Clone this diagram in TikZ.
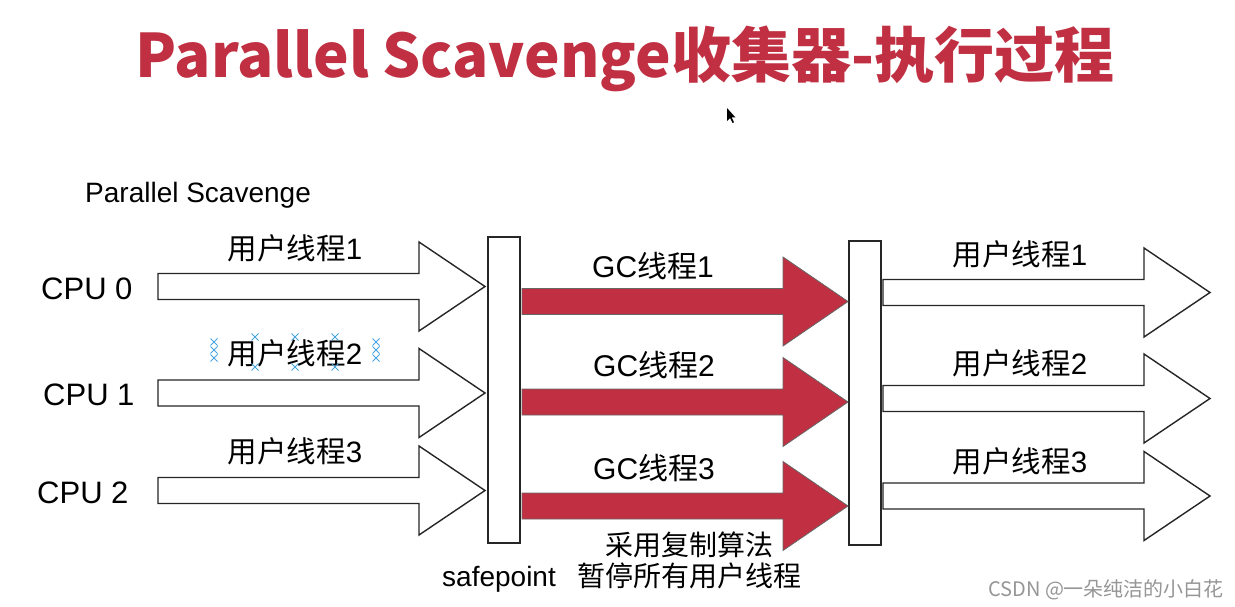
\documentclass[tikz,border=0pt]{standalone}
\usepackage{fontspec}
\setmainfont{Liberation Sans}
\newfontfamily\cjk{Noto Sans CJK SC}
\newcommand\zh[1]{{\cjk #1}}
\definecolor{gcred}{RGB}{192,48,66}
\definecolor{markblue}{RGB}{70,165,225}
\definecolor{wmgray}{RGB}{150,150,150}
\tikzset{
  blk/.style={draw=black!85, line width=1.4pt, fill=white, line join=miter},
  redarr/.style={draw=black!60, line width=0.8pt, fill=gcred, line join=miter},
  barbox/.style={draw=black!85, line width=1.4pt, fill=white, minimum width=32pt, inner sep=0pt},
  ulbl/.style={inner sep=0pt, anchor=base, font=\fontsize{29.5}{30}\selectfont},
  gclbl/.style={inner sep=0pt, anchor=base, font=\fontsize{30}{30}\selectfont},
  cpulbl/.style={inner sep=0pt, anchor=base west, font=\fontsize{31}{31}\selectfont},
  notelbl/.style={inner sep=0pt, anchor=base west, font=\cjk\fontsize{28}{28}\selectfont},
  bluex/.style={draw=markblue, line width=1pt},
}
% block arrow: style, x0, xhead, xtip, ycenter
\newcommand\blockarrow[5]{%
  \draw[#1] (#2,#5-13) -- (#3,#5-13) -- (#3,#5-44.5) -- (#4,#5) -- (#3,#5+44.5) -- (#3,#5+13) -- (#2,#5+13) -- cycle;}
\newcommand\bluecross[2]{%
  \draw[bluex] (#1-3.5,#2-3.5) -- (#1+3.5,#2+3.5) (#1-3.5,#2+3.5) -- (#1+3.5,#2-3.5);}
\begin{document}
\begin{tikzpicture}[x=1pt,y=-1pt]
\useasboundingbox (0,0) rectangle (1235,607);
\fill[white] (0,0) rectangle (1235,607);

% title
\node[inner sep=0pt, anchor=base, text=gcred, font=\cjk\bfseries\fontsize{60}{60}\selectfont] (title) at (625,78) {Parallel Scavenge收集器-执行过程};

% mouse cursor
\fill[black] (727,108) -- (727,121) -- (730,118) -- (732.5,123) -- (734,122.3) -- (731.7,117.5) -- (735.5,117.5) -- cycle;

% subtitle
\node[inner sep=0pt, anchor=base west, font=\fontsize{28}{28}\selectfont] (ps) at (85,202) {Parallel Scavenge};

% CPU labels
\node[cpulbl] (cpu0) at (41,299) {CPU 0};
\node[cpulbl] (cpu1) at (43,405) {CPU 1};
\node[cpulbl] (cpu2) at (37,503) {CPU 2};

% left user-thread arrows
\blockarrow{blk}{158}{419}{485}{286.5}
\blockarrow{blk}{158}{419}{485}{393}
\blockarrow{blk}{158}{419}{485}{490.5}
\node[ulbl] (u1) at (295,259.5) {\zh{用户线程}1};
\node[ulbl] (u2) at (295,364.5) {\zh{用户线程}2};
\node[ulbl] (u3) at (295,462.5) {\zh{用户线程}3};

% blue selection marks around 用户线程2
\foreach \yy in {342,350,358} {\bluecross{214}{\yy}\bluecross{376}{\yy}}
\foreach \xx in {255,295,335} {\bluecross{\xx}{337}\bluecross{\xx}{367}}

% safepoint bars
\node[barbox, minimum height=306pt] (sp) at (504,390) {};
\node[barbox, minimum height=304pt] (sp2) at (865,393) {};

% GC arrows
\blockarrow{redarr}{522}{783}{848}{301.5}
\blockarrow{redarr}{522}{783}{848}{402}
\blockarrow{redarr}{522}{783}{848}{506}
\node[gclbl] (g1) at (653,277) {GC\zh{线程}1};
\node[gclbl] (g2) at (654,376) {GC\zh{线程}2};
\node[gclbl] (g3) at (654,479) {GC\zh{线程}3};

% right user-thread arrows
\blockarrow{blk}{883}{1144}{1210}{292.5}
\blockarrow{blk}{883}{1144}{1210}{398.5}
\blockarrow{blk}{883}{1144}{1210}{496}
\node[ulbl] (r1) at (1020,265.5) {\zh{用户线程}1};
\node[ulbl] (r2) at (1020,374.5) {\zh{用户线程}2};
\node[ulbl] (r3) at (1020,472.5) {\zh{用户线程}3};

% notes
\node[notelbl] (copy) at (605,555) {采用复制算法};
\node[inner sep=0pt, anchor=base west, font=\fontsize{28}{28}\selectfont] (safe) at (442,586) {safepoint};
\node[notelbl] (stop) at (577,586) {暂停所有用户线程};

% watermark
\node[inner sep=0pt, anchor=base west, text=wmgray, font=\cjk\fontsize{20}{20}\selectfont] (wm) at (988,596) {CSDN @一朵纯洁的小白花};
\end{tikzpicture}
\end{document}
